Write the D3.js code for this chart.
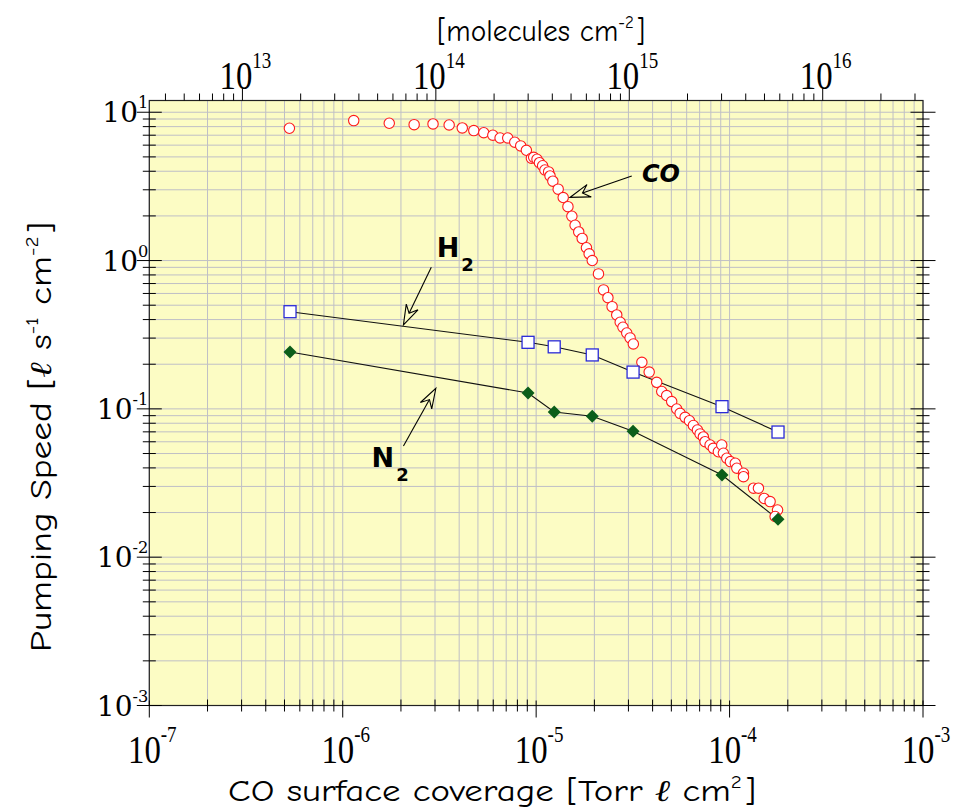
<!DOCTYPE html>
<html>
<head>
<meta charset="utf-8">
<script src="https://cdn.jsdelivr.net/npm/d3@7"></script>
<style>
    body { margin: 0; background: #ffffff; }
    svg { display: block; }
</style>
</head>
<body>
<div id="chart"></div>
<script>
// CO surface coverage [Torr l cm^2] and pumping speed [l s^-1 cm^-2]
const coCoverage = [5.30e-7, 1.14e-6, 1.74e-6, 2.34e-6, 2.93e-6, 3.55e-6, 4.15e-6, 4.76e-6, 5.36e-6, 5.97e-6,
    6.51e-6, 7.13e-6, 7.75e-6, 8.32e-6, 8.90e-6, 9.45e-6, 9.71e-6, 1.01e-5, 1.04e-5, 1.08e-5,
    1.11e-5, 1.16e-5, 1.18e-5, 1.22e-5, 1.30e-5, 1.38e-5, 1.46e-5, 1.53e-5, 1.59e-5, 1.66e-5,
    1.73e-5, 1.82e-5, 1.88e-5, 1.95e-5, 2.10e-5, 2.23e-5, 2.35e-5, 2.47e-5, 2.61e-5, 2.72e-5,
    2.81e-5, 2.94e-5, 3.06e-5, 3.18e-5, 3.52e-5, 3.84e-5, 4.20e-5, 4.46e-5, 4.73e-5, 5.02e-5,
    5.33e-5, 5.55e-5, 5.89e-5, 6.20e-5, 6.50e-5, 6.82e-5, 7.04e-5, 7.32e-5, 7.47e-5, 7.93e-5,
    8.24e-5, 8.75e-5, 9.11e-5, 9.29e-5, 9.67e-5, 1.01e-4, 1.07e-4, 1.09e-4, 1.18e-4, 1.18e-4,
    1.33e-4, 1.41e-4, 1.51e-4, 1.62e-4, 1.77e-4, 1.72e-4];
const coSpeed = [7.80, 8.78, 8.43, 8.25, 8.34, 8.21, 7.84, 7.52, 7.28, 7.00,
    6.71, 6.71, 6.28, 5.93, 5.54, 4.90, 4.97, 4.82, 4.57, 4.36,
    4.08, 3.96, 3.72, 3.43, 3.03, 2.66, 2.31, 1.99, 1.73, 1.56,
    1.41, 1.22, 1.11, 1.00, 0.813, 0.634, 0.562, 0.489, 0.430, 0.384,
    0.355, 0.325, 0.301, 0.274, 0.206, 0.177, 0.151, 0.131, 0.123, 0.112,
    0.0998, 0.0933, 0.0877, 0.0832, 0.0773, 0.0721, 0.0678, 0.0647, 0.0601, 0.0571,
    0.0542, 0.0514, 0.0571, 0.0502, 0.0465, 0.0441, 0.0430, 0.0398, 0.0368, 0.0349,
    0.0292, 0.0292, 0.0249, 0.0237, 0.0208, 0.0188];

const gasCoverage = [5.34e-7, 9.08e-6, 1.24e-5, 1.95e-5, 3.17e-5, 9.14e-5, 1.78e-4];
const h2Speed = [0.452, 0.281, 0.262, 0.231, 0.177, 0.1035, 0.0698];
const n2Speed = [0.242, 0.128, 0.0953, 0.0891, 0.0706, 0.0358, 0.0180];

const xTickExp = [-7, -6, -5, -4, -3];
const yTickExp = [-3, -2, -1, 0, 1];
const topTickExp = [13, 14, 15, 16];
const moleculesPerTorrLitre = 3.3e19;

// annotation anchors, in data units
const annotations = [
    {label: "CO", sub: "", tx: 4.42e-5, ty: 3.40, from: [3.12e-5, 3.72], to: [1.50e-5, 2.67], italic: true},
    {label: "H", sub: "2", tx: 3.06e-6, ty: 1.06, from: [2.87e-6, 0.901], to: [2.06e-6, 0.368], italic: false},
    {label: "N", sub: "2", tx: 1.41e-6, ty: 0.0408, from: [2.06e-6, 0.0562], to: [3.03e-6, 0.1377], italic: false}
];

let margin = {top: 100.5, left: 149.3};
let width = 773.7, height = 605;
let comic = "'Comic Sans MS', 'Comic Neue', 'Noto Sans', sans-serif";
let script = "'DejaVu Serif', serif";
let bg = "#fcfcc4";

let svg = d3.select("#chart").append("svg")
    .attr("width", 953)
    .attr("height", 812);

let g = svg.append("g")
    .attr("transform", "translate(" + margin.left + "," + margin.top + ")");

let x = d3.scaleLog().domain([1e-7, 1e-3]).range([0, width]);
let xTop = d3.scaleLog().domain([1e-7 * moleculesPerTorrLitre, 1e-3 * moleculesPerTorrLitre]).range([0, width]);
let y = d3.scaleLog().domain([1e-3, 12]).range([height, 0]);

g.append("rect")
    .attr("width", width)
    .attr("height", height)
    .attr("fill", bg);

// grid
let grid = g.append("g").attr("stroke", "#bfbfc6").attr("stroke-width", 1);
x.ticks().forEach(function (t) {
    grid.append("line")
        .attr("x1", x(t)).attr("x2", x(t))
        .attr("y1", 0).attr("y2", height);
});
y.ticks().forEach(function (t) {
    grid.append("line")
        .attr("x1", 0).attr("x2", width)
        .attr("y1", y(t)).attr("y2", y(t));
});

g.append("rect")
    .attr("width", width)
    .attr("height", height)
    .attr("fill", "none")
    .attr("stroke", "#222")
    .attr("stroke-width", 1.2);

function isMajor(t) {
    return Math.abs(Math.log10(t) - Math.round(Math.log10(t))) < 1e-6;
}

// ticks
let ticks = g.append("g").attr("stroke", "#000").attr("stroke-width", 1);
x.ticks().forEach(function (t) {
    let major = isMajor(t);
    ticks.append("line")
        .attr("x1", x(t)).attr("x2", x(t))
        .attr("y1", height - (major ? 5 : 6)).attr("y2", height + (major ? 12 : 6));
});
xTop.ticks().forEach(function (t) {
    let major = isMajor(t);
    ticks.append("line")
        .attr("x1", xTop(t)).attr("x2", xTop(t))
        .attr("y1", 0).attr("y2", major ? -12 : -7);
});
y.ticks().forEach(function (t) {
    let major = isMajor(t);
    let len = major ? 12.5 : 6.5;
    ticks.append("line")
        .attr("x1", -len).attr("x2", len)
        .attr("y1", y(t)).attr("y2", y(t));
    ticks.append("line")
        .attr("x1", width - len).attr("x2", width + len)
        .attr("y1", y(t)).attr("y2", y(t));
});

// tick labels
function powerLabel(sel, exp, baseSize) {
    sel.append("tspan").text("10");
    sel.append("tspan")
        .attr("dy", -0.5 * baseSize)
        .attr("font-size", baseSize * 0.58)
        .text(exp < 0 ? "-" + Math.abs(exp) : String(exp));
}

xTickExp.forEach(function (e) {
    let t = g.append("text")
        .attr("transform", "translate(" + (x(Math.pow(10, e)) + 3) + "," + (height + 57) + ") scale(0.8,1)")
        .attr("text-anchor", "middle")
        .attr("font-family", "'Liberation Serif', serif")
        .attr("font-size", 41);
    powerLabel(t, e, 41);
});

topTickExp.forEach(function (e) {
    let t = g.append("text")
        .attr("transform", "translate(" + (xTop(Math.pow(10, e)) + 3) + "," + (-12) + ") scale(0.8,1)")
        .attr("text-anchor", "middle")
        .attr("font-family", "'Liberation Serif', serif")
        .attr("font-size", 41);
    powerLabel(t, e, 41);
});

yTickExp.forEach(function (e) {
    let t = g.append("text")
        .attr("x", -1)
        .attr("y", y(Math.pow(10, e)) + 10)
        .attr("text-anchor", "end")
        .attr("font-family", "'DejaVu Serif', serif")
        .attr("font-size", 28);
    powerLabel(t, e, 28);
});

// axis titles
let bottomTitle = svg.append("text")
    .attr("x", 492)
    .attr("y", 801)
    .attr("text-anchor", "middle")
    .attr("font-family", comic)
    .attr("font-size", 30)
    .attr("textLength", 528)
    .attr("lengthAdjust", "spacingAndGlyphs");
bottomTitle.append("tspan").text("CO surface coverage [Torr ");
bottomTitle.append("tspan").attr("font-family", script).attr("font-style", "italic").attr("font-weight", 300).text("ℓ");
bottomTitle.append("tspan").text(" cm");
bottomTitle.append("tspan").attr("dy", -13).attr("font-size", 17).text("2");
bottomTitle.append("tspan").attr("dy", 13).attr("dx", 2).text("]");

let topTitle = svg.append("text")
    .attr("x", 541)
    .attr("y", 41)
    .attr("text-anchor", "middle")
    .attr("font-family", comic)
    .attr("font-size", 30)
    .attr("textLength", 208)
    .attr("lengthAdjust", "spacingAndGlyphs");
topTitle.append("tspan").text("[molecules cm");
topTitle.append("tspan").attr("dy", -13).attr("font-size", 17).text("-2");
topTitle.append("tspan").attr("dy", 13).attr("dx", 2).text("]");

let leftTitle = svg.append("text")
    .attr("transform", "translate(51,437) rotate(-90)")
    .attr("text-anchor", "middle")
    .attr("font-family", comic)
    .attr("font-size", 30)
    .attr("textLength", 430)
    .attr("lengthAdjust", "spacingAndGlyphs");
leftTitle.append("tspan").text("Pumping Speed  [");
leftTitle.append("tspan").attr("font-family", script).attr("font-style", "italic").attr("font-weight", 300).text("ℓ");
leftTitle.append("tspan").text(" s");
leftTitle.append("tspan").attr("dy", -13).attr("font-size", 17).text("-1");
leftTitle.append("tspan").attr("dy", 13).text(" cm");
leftTitle.append("tspan").attr("dy", -13).attr("font-size", 17).text("-2");
leftTitle.append("tspan").attr("dy", 13).attr("dx", 2).text("]");

// series
let line = d3.line()
    .x(function (d) { return x(d[0]); })
    .y(function (d) { return y(d[1]); });

let h2Data = d3.zip(gasCoverage, h2Speed);
let n2Data = d3.zip(gasCoverage, n2Speed);
let coData = d3.zip(coCoverage, coSpeed);

g.append("path").datum(h2Data)
    .attr("fill", "none").attr("stroke", "#111").attr("stroke-width", 1.1)
    .attr("d", line);
g.append("path").datum(n2Data)
    .attr("fill", "none").attr("stroke", "#111").attr("stroke-width", 1.1)
    .attr("d", line);

g.append("g").selectAll("circle")
    .data(coData)
    .join("circle")
    .attr("cx", function (d) { return x(d[0]); })
    .attr("cy", function (d) { return y(d[1]); })
    .attr("r", 5.2)
    .attr("fill", "#fff")
    .attr("stroke", "#ff1a1a")
    .attr("stroke-width", 1.1);

g.append("g").selectAll("rect")
    .data(h2Data)
    .join("rect")
    .attr("x", function (d) { return x(d[0]) - 6; })
    .attr("y", function (d) { return y(d[1]) - 6; })
    .attr("width", 12)
    .attr("height", 12)
    .attr("fill", "#fff")
    .attr("stroke", "#2a2ad8")
    .attr("stroke-width", 1.3);

g.append("g").selectAll("path")
    .data(n2Data)
    .join("path")
    .attr("transform", function (d) { return "translate(" + x(d[0]) + "," + y(d[1]) + ")"; })
    .attr("d", "M0,-6.5L6.5,0L0,6.5L-6.5,0Z")
    .attr("fill", "#0b5e1a");

// annotations with hollow arrowheads
let ann = g.append("g");
annotations.forEach(function (a) {
    let x0 = x(a.from[0]), y0 = y(a.from[1]);
    let x1 = x(a.to[0]), y1 = y(a.to[1]);
    let ang = Math.atan2(y1 - y0, x1 - x0);
    let ux = Math.cos(ang), uy = Math.sin(ang);
    let headLen = 20, halfW = 6.5, notch = 13;
    let bx = x1 - ux * headLen, by = y1 - uy * headLen;
    let nx = x1 - ux * notch, ny = y1 - uy * notch;
    ann.append("line")
        .attr("x1", x0).attr("y1", y0)
        .attr("x2", nx).attr("y2", ny)
        .attr("stroke", "#000").attr("stroke-width", 1.1);
    let head = d3.path();
    head.moveTo(x1, y1);
    head.lineTo(bx - uy * halfW, by + ux * halfW);
    head.lineTo(nx, ny);
    head.lineTo(bx + uy * halfW, by - ux * halfW);
    head.closePath();
    ann.append("path")
        .attr("d", head.toString())
        .attr("fill", bg)
        .attr("stroke", "#000")
        .attr("stroke-width", 1.1);

    let t = ann.append("text")
        .attr("x", x(a.tx))
        .attr("y", y(a.ty))
        .attr("text-anchor", a.italic ? "middle" : "start")
        .attr("font-family", "'DejaVu Sans', sans-serif")
        .attr("font-weight", "bold")
        .attr("font-style", a.italic ? "italic" : "normal")
        .attr("font-size", a.italic ? 24 : 27);
    t.append("tspan").text(a.label);
    if (a.sub) {
        t.append("tspan").attr("dy", 14).attr("dx", 2).attr("font-size", 18).text(a.sub);
    }
});
</script>
</body>
</html>
